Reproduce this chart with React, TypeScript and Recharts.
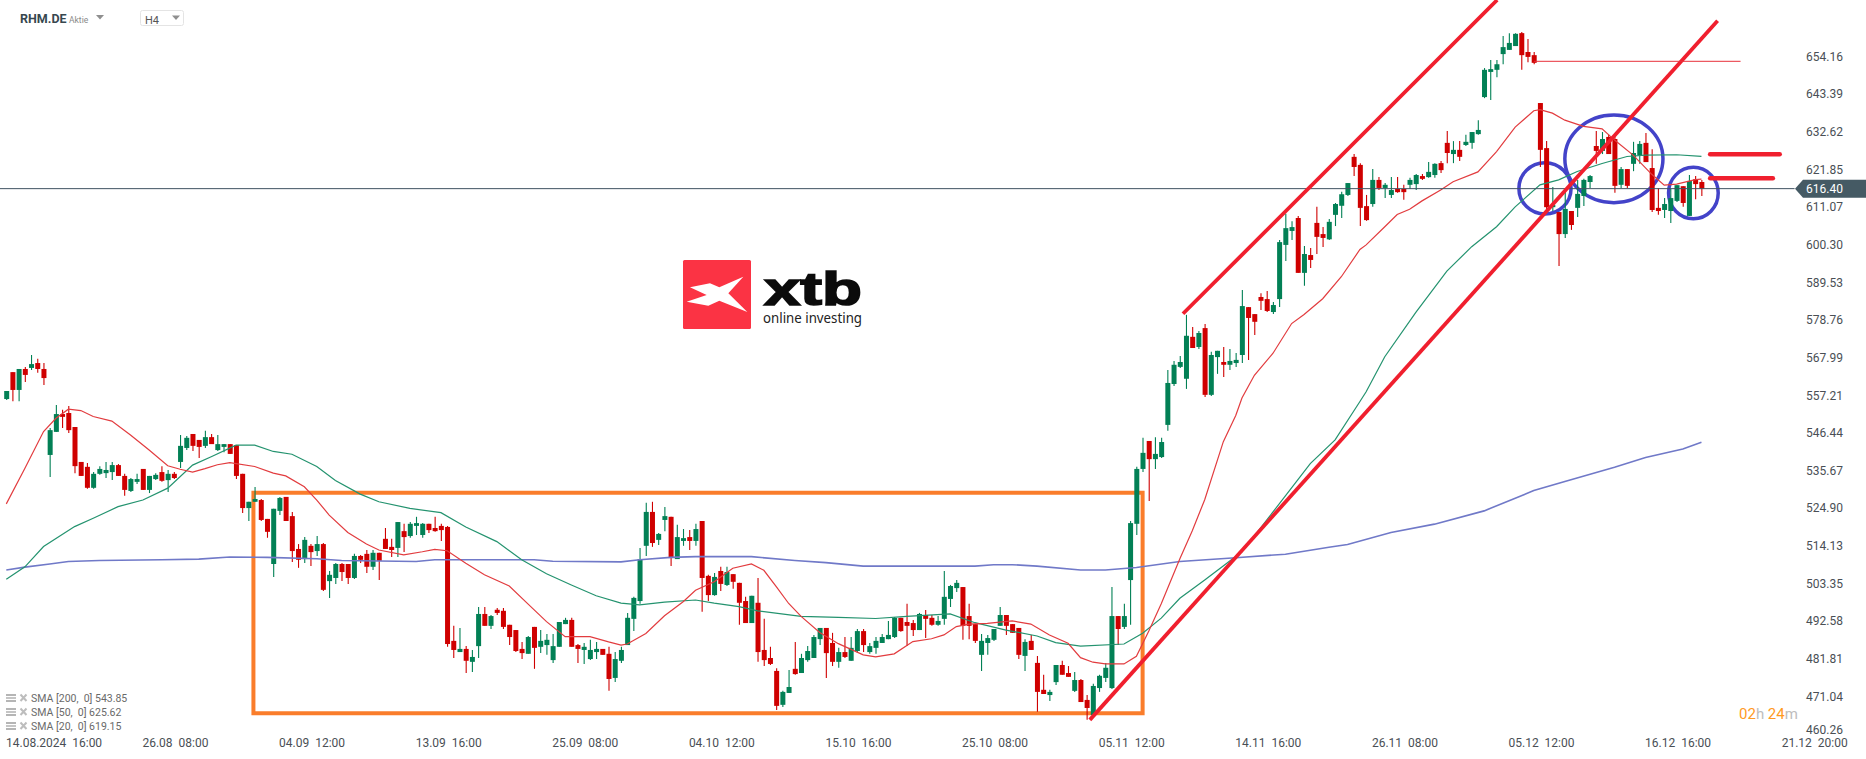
import React from "react";
import {
  ComposedChart,
  Bar,
  Line,
  XAxis,
  YAxis,
  ReferenceLine,
  ReferenceArea,
} from "recharts";

const opens = [
  556.2,563.9,558.8,564.8,565.1,566.5,564.8,540.2,546.8,551.9,
  552.2,548.2,538.2,536.8,530.8,534.8,535,535.3,537.3,534.2,
  529.9,532.5,536.2,530.2,533.3,535.3,533,534.8,538.2,542.2,
  546.2,544.5,542.8,545.3,541.6,542.5,543.3,543,534.8,525,
  526.8,527.3,521.9,509,524.2,528.2,522.7,513.3,510.4,514.2,
  512.7,514.7,504.1,505,509,509,505,511.3,511.9,508.2,
  512.2,516.2,513.9,513.6,518.4,517,519.9,517.3,520.5,519.3,
  519.9,519.6,487,483.8,484.7,481,485.5,494.7,491.3,495.9,
  495.6,491.6,490.1,484.7,483.3,491,485.3,485.8,481.5,485.3,
  491.8,493,485.8,484.4,481.8,483.8,484.7,483.3,476.4,481.3,
  485.8,493.3,498.4,514.2,523.9,515.9,521.6,522.5,510.4,515.6,
  516.7,515.6,521.3,505.6,500.1,507,503,506.1,503.6,498.4,
  492.1,497.9,484.4,482.1,478.4,468.7,472.1,479,477.8,481.5,
  482.1,487.5,490.7,486.4,481,483.8,481.3,484.1,489.8,483.8,
  485,486.4,487.5,488.1,493.6,492.4,492.1,490.1,494.4,493.6,
  491.6,493.3,499,502.1,502.4,494.1,491.8,483,486.4,487.3,
  491.3,494.4,491.8,490.7,482.7,487,480.7,473,471.5,475.2,
  480.1,477.8,472.7,475.8,470.1,465.8,473.5,476.4,473.5,494.1,
  491,504.4,520.5,536.2,544.2,539,539.6,548.8,560.5,565.4,
  562,574,571.1,576.5,557.4,568.2,566.8,566,566.5,568.8,
  582.5,580.5,585.4,584.8,581.1,584.8,600.3,604.3,608,592.3,
  597.4,606.6,603.4,601.9,608.9,611.5,614.6,625.5,623.2,611.4,
  612,618.9,616.6,614.6,616.3,616.3,617.5,617.7,620,619.7,
  620.3,623.7,629.5,626.3,627.5,628.9,629.5,632,642.6,649.8,
  650.4,654.9,656.1,657.2,660.9,655.5,654.6,640.9,628,611.1,
  609.7,603.4,610,610.9,614.3,618.3,628.6,627.2,631.2,630.6,
  617.5,622,623.5,626,629.5,622.3,610.9,610.3,610,612.9,
  617.1,608.6,619.1,618.3,
];
const highs = [
  558.5,563.9,564.8,565.4,568.8,567.7,566.5,547.9,554.5,553.1,
  554.2,548.2,538.2,537.9,535.3,537,538.2,538.2,537.6,534.8,
  533.6,534.8,536.2,534.2,535,537,535.9,535.3,545.9,545.6,
  546.2,544.5,547.1,546.2,545.9,543.3,543.3,543,534.8,526.8,
  531,527.6,521.9,524.8,528.2,528.2,523.9,514.7,516.7,514.7,
  517,515,507,509.3,509.3,509,511.9,511.6,513,513,
  512.2,519.3,516.2,521,520.5,521,522.5,520.7,520.5,522.5,
  520.5,519.9,491.3,490.7,485.5,484.4,496.7,496.7,494.4,496.4,
  496.4,491.6,490.1,486.7,488.4,491,490.1,489,489,492.4,
  493.6,493.6,486.1,486.4,487.3,486.7,484.7,485.3,483.8,485.3,
  495,499.6,513.6,526.5,526.8,517.9,525.3,522.5,520.2,519,
  518.7,520.5,521.3,505.9,506.4,508.2,508.2,506.1,503.6,499.6,
  499.9,505,493.3,485.3,479.2,472.7,478.7,486.7,483.3,485.5,
  488.7,490.7,490.7,489.3,485,488.1,488.1,490.4,490.4,486.4,
  488.1,489,492.7,493.8,493.6,497.6,493,495,495.8,494.4,
  494.1,507,503,504.4,502.4,497.6,491.8,489,488.7,490.4,
  496.7,494.4,491.8,490.7,487.5,488.7,482.7,477.3,473,480.1,
  481.3,479.8,478.1,476.1,471.5,474.7,477.3,480.7,502.4,494.1,
  497.6,521.3,536.8,545.1,544.2,545.3,545.1,564.5,567.1,568.5,
  580.3,576.8,575.7,577.7,569.7,570,571.1,570.5,569.4,587.4,
  582.5,580.5,586.5,587.1,584,601.7,609.2,607.1,608.6,600,
  599.4,611.2,605.4,607.7,612.3,615.5,618,626.3,623.7,614.6,
  622,619.7,618,619.7,619.7,617.5,619.5,620.6,620.6,624,
  623.7,624.3,632.9,630,630,631.8,632.6,636,650.9,653.2,
  653.2,660.1,660.9,660.9,661.2,659.2,655.5,640.9,630,616.9,
  609.7,616,610,618.9,619.2,620.3,632.9,632.6,631.8,631.8,
  622.6,622,629.8,630,632.3,627.7,616.5,613.7,616.3,617.4,
  617.1,620.3,620,618.9,
];
const lows = [
  555.9,555.6,555.6,561.1,564.5,563.7,560.2,533.9,546.8,547.9,
  546.5,535,534.2,530.5,530.5,534.5,533.6,533,534.2,528.5,
  529.6,531.9,530.2,529.3,533,532.5,529.6,533.3,536.5,541.6,
  541.3,539.3,542.2,543.3,541.3,541,540.5,533.3,523.6,521.3,
  526.8,521.3,516.5,505.3,523,521.3,509.6,507.9,509.3,508.4,
  511.3,501.3,499.3,503.3,504.1,503.3,504.7,509.3,506.4,507.3,
  504.4,513.3,511,511,512.4,516.5,517.3,516.5,517.9,518.2,
  515.6,485.3,482.1,483.8,477.8,478.1,482.1,491.3,490.4,494.4,
  490.4,485.8,483.8,481.8,483.3,479,483.5,483,480.7,485.3,
  491.8,485.3,480.7,480.4,481.5,481.8,483,472.7,475.2,480.7,
  485.8,489.8,497.6,511.3,513.9,514.4,518.4,508.4,510.4,514.2,
  513,514.2,495.3,498.4,499.9,501.3,502.7,501.9,491.6,492.1,
  492.1,481,479.8,480.1,467.2,468.1,472.1,477.3,477.8,481,
  482.1,485.8,476.4,479.8,479.3,482.1,481.3,483.5,483.8,483.3,
  483.3,486.4,487.5,487.8,489.6,485.5,488.4,490.1,487.8,491.3,
  491.3,491.6,496.7,501,487.3,487.5,486.4,478.4,483,487,
  491.3,488.7,489.3,481.8,478.4,484.4,466.7,471.8,469.8,474.4,
  477.3,476.7,472.4,469.5,464.4,465.8,472.4,475.2,473.2,485.8,
  490.4,491.6,517.3,535.3,527,536.2,539.3,547.1,559.9,565.1,
  559.1,570.8,570.5,556.8,557.1,563.4,562.5,564.5,565.4,566.5,
  567.4,574.5,581.7,581.1,580.5,582.5,595.7,601.7,592.3,588.6,
  593.7,597.7,599.7,601.7,605.7,608,614.3,620,605.7,607.2,
  611.2,616,613.7,613.7,615.2,613.2,616.3,616,618.9,619.5,
  619.5,620.9,623.7,623.7,624.3,628.6,627.8,631.8,642.3,641.8,
  648.3,652,656.1,657.2,650.4,652.6,652,622.6,610,610,
  594.3,602.3,604.6,608.3,611.4,616.6,623.5,626.3,626.3,615.2,
  616.6,616.6,621.4,623.5,624,609.7,608.9,608,606.6,612.6,
  611.2,608.6,613.4,614.3,
];
const closes = [
  558.5,558.8,564.8,563.1,566.2,564.8,562.2,547.3,551.9,551.1,
  547.3,537,534.2,530.8,534.8,536.2,535.9,537.3,534.2,530.2,
  533.3,533.3,530.2,534.2,534.5,532.8,534.8,533.6,542.8,545.1,
  542.8,542.5,545.3,543.3,543.3,543.3,540.5,534.2,525,526.8,
  527.6,521.6,518.2,524.8,527.9,521.3,512.7,510.2,515.9,512.4,
  514.7,501.6,505.9,509,506.7,505,511.3,510.2,508.2,512.2,
  509.9,513.3,513,521,516.7,520.5,520.7,520.5,518.7,518.4,
  518.7,486.1,484.4,484.7,481.3,482.4,494.7,491.3,494.1,495,
  491,488.1,484.1,483.5,488.1,485,487,487.3,485.5,492.4,
  493,485.3,484.7,485.3,484.4,484.7,483,476.1,481.8,484.4,
  493.6,499.3,510.4,523.9,515,517.6,522.7,510.7,516.7,516.4,
  515.6,519,505,500.1,505.3,503.3,506.7,503.9,497.9,492.1,
  499.9,483.8,481.5,480.4,468.4,472.4,473.8,477.5,482.1,484.1,
  488.1,490.7,483.5,481,483.8,482.4,485,489.8,485.8,485.5,
  487,488.1,488.7,493.6,489.8,491.3,490.1,494.7,493.3,491.6,
  492.7,499.6,502.7,503.6,491.3,491.3,487,487,487.8,490.4,
  494.4,491.3,489.3,483,486.7,484.4,472.4,471.8,472.4,480.1,
  477.3,476.7,475.8,469.5,467.8,474.1,477,479.3,494.1,490.4,
  494.1,520.7,536.2,540.8,539,540.5,543.9,560.8,566,566.8,
  574.3,570.8,575.1,557.4,568.8,570,566,567.1,567.4,582.8,
  579.4,578.3,584.3,581.4,583.1,601.1,605.1,605.4,592.3,597.7,
  596,602.6,602.3,606.9,612,614.8,618,622.6,610.9,607.4,
  618.9,616.6,617.5,616,615.4,615.4,618.9,620.3,619.2,621.2,
  623.5,621.7,626.6,627.5,625.5,629.8,632.6,633.2,650.4,650.6,
  652,656.9,658.1,660.7,654.6,654.1,652.4,627.5,611.1,611.7,
  603.4,610.6,606,614.9,618.9,620,627.2,630.6,626.3,617.2,
  622,617.2,626.6,629.2,624,610.3,610,612,613.7,617.4,
  612.3,618.6,617.7,616.4,
];

// moving averages, read at the candles where the line visibly bends
const sma20Bars = [0,3,6,8,10,12,14,17,20,23,26,28,30,32,34,36,40,43,45,48,50,52,55,58,60,64,67,69,71,74,77,81,84,87,90,94,97,99,100,103,106,109,111,114,117,120,122,124,126,128,131,134,138,140,143,146,149,151,153,155,158,162,165,168,171,173,175,177,180,182,184,186,189,191,193,196,198,199,201,204,207,209,212,215,218,219,222,224,226,228,231,233,237,240,243,246,247,249,251,254,257,259,262,265,267,269,272,273];
const sma20Values = [526.2,536.4,546.9,550.7,553.3,552.9,551.2,549.9,545.9,541.6,537.1,536.1,535.3,536.3,537.4,538,536.9,535,534.2,531.1,527.3,523,518,514.7,513,511.6,512.5,513.2,512.8,509.2,505.9,502.7,497.6,492.5,488.2,488.2,486.7,485.8,486.1,489.1,494.2,498.2,501.5,503.9,507.8,509,507.2,502.5,497.7,494,489.4,486.2,483,482.4,483.3,486.8,487.6,488.7,491.1,491.8,492,492.7,491.8,488.7,486.3,482.2,480.9,480.4,480.4,482.6,489.8,497.6,510.5,518.5,527.4,544,551.5,556.5,563,569.3,577.8,580.4,584.9,591.2,599,600.3,605.5,609,610.5,612.9,616,618.4,621.2,627,634,638.7,639,638,636,634.2,633.5,630.3,626,620.5,617.4,617.7,619,619.15];
const sma50Bars = [0,3,6,11,14,18,22,26,30,33,37,40,43,46,50,53,57,60,65,70,74,79,83,87,91,95,99,102,106,111,114,118,121,128,134,140,145,152,156,161,166,169,173,180,183,186,189,193,199,204,210,214,218,219,222,227,232,236,240,243,247,250,253,257,261,264,269,273];
const sma50Values = [504.6,508.2,514,519.7,522.1,525.4,527.3,530.7,537.3,539.7,543,543,541.2,540.4,536.9,532.9,529,526.8,524.9,523.7,519.6,515.4,510.2,506.2,503,499.9,497.8,497.3,498.1,498.7,497.8,496.8,495.6,494,493.7,493.4,494,494.7,492.2,490.1,488.4,486.5,485.5,486.1,489.2,493.5,499.2,504.4,512.5,523.9,537.7,544.5,555.5,558.3,568.3,581,592.8,599.8,605.5,611.2,617.5,618.9,621.3,623.6,625.6,626,626.1,625.62];
const sma200Bars = [0,3,7,10,15,25,31,36,42,50,54,66,69,85,88,99,102,107,111,120,127,132,138,156,159,162,166,173,177,182,189,198,206,213,216,223,230,238,246,251,259,264,270,273];
const sma200Values = [507.3,508.1,509,509.7,510,510.2,510.4,511,510.9,510.5,510,509.7,510.2,510.2,509.8,509.6,510.2,510.9,511.1,511.1,510,509.4,508.4,508.4,508.8,508.8,508.4,507.3,507.3,508,509.7,510.8,511.8,513.8,514.6,518,520.4,524.2,530,532.6,536.7,539.5,541.9,543.85];

const priceTicks = [654.16,643.39,632.62,621.85,616.4,611.07,600.3,589.53,578.76,567.99,557.21,546.44,535.67,524.9,514.13,503.35,492.58,481.81,471.04,460.26];
const timeBars = [5,27,49,71,93,115,137,159,181,203,225,247,269,291];
const timeLabels = ["14.08.2024  16:00","26.08  08:00","04.09  12:00","13.09  16:00","25.09  08:00","04.10  12:00","15.10  16:00","25.10  08:00","05.11  12:00","14.11  16:00","26.11  08:00","05.12  12:00","16.12  16:00","21.12  20:00"];
const legendRows = ["SMA [200,  0] 543.85","SMA [50,  0] 625.62","SMA [20,  0] 619.15"];

const lastPrice = 616.4;

const rows = opens.map((open, i) => {
  const at = (bars: number[], values: number[]) => {
    const k = bars.indexOf(i);
    return k >= 0 ? values[k] : null;
  };
  return {
    bar: i,
    open,
    high: highs[i],
    low: lows[i],
    close: closes[i],
    sma20: at(sma20Bars, sma20Values),
    sma50: at(sma50Bars, sma50Values),
    sma200: at(sma200Bars, sma200Values),
  };
});

function Candle(props: any) {
  const { x, y, width, height, payload } = props;
  const up = payload.close >= payload.open;
  const color = up ? "#028055" : "#cf0000";
  const perUnit = height / (payload.high - payload.low);
  const top = y + (payload.high - Math.max(payload.open, payload.close)) * perUnit;
  const bodyH = Math.max(Math.abs(payload.close - payload.open) * perUnit, 1);
  const mid = x + width / 2;
  return (
    <g>
      <line x1={mid} x2={mid} y1={y} y2={y + height} stroke={color} strokeWidth={1.1} />
      <rect x={x} y={top} width={width} height={bodyH} fill={color} />
    </g>
  );
}

function TimeTick(props: any) {
  const { x, payload, index } = props;
  const label = timeLabels[timeBars.indexOf(payload.value)];
  const first = index === 0;
  return (
    <text
      x={first ? 6 : x + 1.5}
      y={747}
      textAnchor={first ? "start" : "middle"}
      fontFamily="Roboto"
      fontSize={12}
      fill="#4a4f55"
      style={{ whiteSpace: "pre" }}
    >
      {label}
    </text>
  );
}

function PriceTick(props: any) {
  const { y, payload } = props;
  if (payload.value === lastPrice) {
    return (
      <g>
        <polygon points={`1795,${y} 1803,${y - 9} 1866,${y - 9} 1866,${y + 9} 1803,${y + 9}`} fill="#455a64" />
        <text x={1806} y={y + 4.5} fontFamily="Roboto" fontSize={12} fill="#ffffff">
          {payload.value.toFixed(2)}
        </text>
      </g>
    );
  }
  // the lowest label is pushed up by the time axis
  const lift = payload.value === 460.26 ? -4.5 : 0;
  return (
    <text x={1806} y={y + 4 + lift} fontFamily="Roboto" fontSize={12} fill="#4a4f55">
      {payload.value.toFixed(2)}
    </text>
  );
}

function Ring(props: any) {
  const { x, y, width, height } = props;
  return (
    <ellipse
      cx={x + width / 2}
      cy={y + height / 2}
      rx={width / 2}
      ry={height / 2}
      fill="none"
      stroke="#4343c9"
      strokeWidth={3.5}
    />
  );
}

function Logo() {
  return (
    <svg width={220} height={100} style={{ position: "absolute", left: 660, top: 240 }}>
      <rect x={23} y={20} width={68} height={69} rx={1.5} fill="#fb3344" />
      <g transform="scale(0.3333)">
        <polygon
          points="90,142 150,130 178,142 250,110 205,160 262,216 178,182 145,197 80,185 140,165"
          fill="#ffffff"
        />
      </g>
      <text x={104} y={65} fontFamily="Liberation Sans" fontWeight={700} fontSize={46} fill="#0b0b0b" stroke="#0b0b0b" strokeWidth={1.6} textLength={98} lengthAdjust="spacingAndGlyphs">
        xtb
      </text>
      <text x={103} y={83} fontFamily="Noto Sans" fontSize={14} fill="#222222" textLength={99} lengthAdjust="spacingAndGlyphs">
        online investing
      </text>
    </svg>
  );
}

function Header() {
  return (
    <svg width={220} height={40} style={{ position: "absolute", left: 0, top: 0 }}>
      <text x={20} y={23} fontFamily="Roboto" fontWeight={700} fontSize={12.5} fill="#37474f">RHM.DE</text>
      <text x={69} y={23} fontFamily="Roboto" fontSize={8.5} fill="#8a8a8a">Aktie</text>
      <polygon points="96,15 104,15 100,19.5" fill="#8f8f8f" />
      <rect x={140.5} y={10.5} width={43} height={15} rx={2} fill="#ffffff" stroke="#e4e4e4" />
      <text x={145} y={23.5} fontFamily="Roboto" fontSize={11} fill="#555555">H4</text>
      <polygon points="172,15.5 180,15.5 176,20" fill="#8f8f8f" />
    </svg>
  );
}

function Legend() {
  return (
    <svg width={160} height={50} style={{ position: "absolute", left: 0, top: 690 }}>
      {legendRows.map((row, i) => {
        const cy = 8 + i * 14;
        return (
          <g key={row}>
            <rect x={6} y={cy - 4} width={10} height={2} fill="#b5b5b5" />
            <rect x={6} y={cy - 1} width={10} height={2} fill="#c5c5c5" />
            <rect x={6} y={cy + 2} width={10} height={2} fill="#b5b5b5" />
            <path d={`M20.5 ${cy - 3.5} L26.5 ${cy + 3} M26.5 ${cy - 3.5} L20.5 ${cy + 3}`} stroke="#bdbdbd" strokeWidth={2} />
            <text x={31} y={cy + 4} fontFamily="Roboto" fontSize={10.5} fill="#6a6a6a" style={{ whiteSpace: "pre" }}>
              {row}
            </text>
          </g>
        );
      })}
    </svg>
  );
}

function Countdown() {
  return (
    <svg width={80} height={24} style={{ position: "absolute", left: 1730, top: 702 }}>
      <text x={9} y={17} fontFamily="Roboto" fontSize={15}>
        <tspan fill="#ff9a1f">02</tspan>
        <tspan fill="#bdbdbd">h </tspan>
        <tspan fill="#ff9a1f">24</tspan>
        <tspan fill="#bdbdbd">m</tspan>
      </text>
    </svg>
  );
}

export default function App() {
  return (
    <div style={{ position: "relative", width: 1866, height: 759, background: "#ffffff", overflow: "hidden" }}>
      <style>{"body{margin:0}"}</style>
      {/* one extra pixel each way: the axes need a size of at least 1 to draw their ticks */}
      <ComposedChart
        width={1867}
        height={760}
        data={rows}
        margin={{ top: 0, right: 0, bottom: 0, left: 0 }}
      >
        <XAxis
          dataKey="bar"
          type="number"
          domain={[-1.014, 299.5]}
          allowDataOverflow
          ticks={timeBars}
          interval={0}
          height={1}
          axisLine={false}
          tickLine={false}
          tick={<TimeTick />}
        />
        <YAxis
          orientation="right"
          type="number"
          domain={[453.2, 670.38]}
          allowDataOverflow
          ticks={priceTicks}
          interval={0}
          width={1}
          axisLine={false}
          tickLine={false}
          tick={<PriceTick />}
        />
        <Line dataKey="sma200" stroke="#7079c8" strokeWidth={1.6} dot={false} connectNulls isAnimationActive={false} />
        <Line dataKey="sma50" stroke="#24936f" strokeWidth={1.2} dot={false} connectNulls isAnimationActive={false} />
        <Line dataKey="sma20" stroke="#e23c3f" strokeWidth={1.2} dot={false} connectNulls isAnimationActive={false} />
        <Bar
          dataKey={(d: any) => [d.low, d.high]}
          barSize={5}
          shape={<Candle />}
          isAnimationActive={false}
        />
        <ReferenceLine
          segment={[{ x: -1.014, y: lastPrice }, { x: 288, y: lastPrice }]}
          stroke="#3f5261"
          strokeWidth={1}
          ifOverflow="visible"
        />
        <ReferenceArea
          x1={39.8}
          x2={183}
          y1={466.3}
          y2={529.4}
          fill="none"
          fillOpacity={0}
          stroke="#fa7d2b"
          strokeWidth={4}
          ifOverflow="visible"
        />
        <ReferenceLine segment={[{ x: 189.5, y: 580.6 }, { x: 240.1, y: 670.38 }]} stroke="#f01f2e" strokeWidth={3.8} ifOverflow="visible" />
        <ReferenceLine segment={[{ x: 174.5, y: 464.4 }, { x: 275.6, y: 664.45 }]} stroke="#f01f2e" strokeWidth={3.8} ifOverflow="visible" />
        <ReferenceLine segment={[{ x: 246, y: 652.84 }, { x: 279.3, y: 652.84 }]} stroke="#e8303a" strokeWidth={1} ifOverflow="visible" />
        <ReferenceLine segment={[{ x: 274.4, y: 626.23 }, { x: 285.6, y: 626.23 }]} stroke="#f01f2e" strokeWidth={4.5} strokeLinecap="round" ifOverflow="visible" />
        <ReferenceLine segment={[{ x: 274.4, y: 619.36 }, { x: 284.5, y: 619.36 }]} stroke="#f01f2e" strokeWidth={4.5} strokeLinecap="round" ifOverflow="visible" />
        <ReferenceArea x1={243.6} x2={252} y1={609.15} y2={623.8} shape={<Ring />} ifOverflow="visible" />
        <ReferenceArea x1={251} x2={266.8} y1={612.4} y2={637.5} shape={<Ring />} ifOverflow="visible" />
        <ReferenceArea x1={267.7} x2={275.7} y1={607.8} y2={622.5} shape={<Ring />} ifOverflow="visible" />
      </ComposedChart>
      <Header />
      <Logo />
      <Legend />
      <Countdown />
    </div>
  );
}
